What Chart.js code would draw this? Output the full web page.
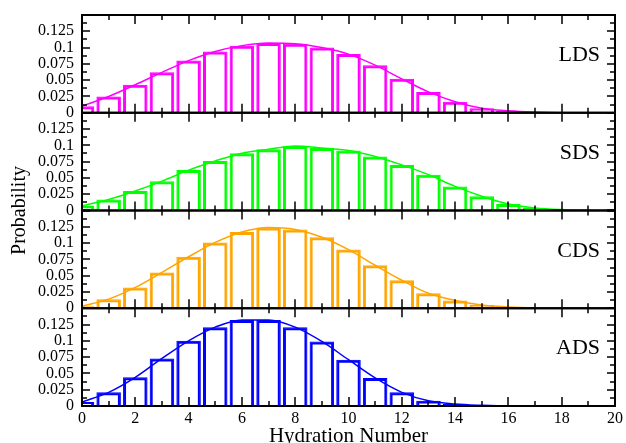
<!DOCTYPE html>
<html>
<head>
<meta charset="utf-8">
<script src="https://cdn.jsdelivr.net/npm/chart.js@4/dist/chart.umd.min.js"></script>
<style>
  body { margin: 0; background: #fff; }
  canvas { display: block; }
</style>
</head>
<body>
<canvas id="hydChart" width="626" height="443"></canvas>
<script>
var hydration = [0, 1, 2, 3, 4, 5, 6, 7, 8, 9, 10, 11, 12, 13, 14, 15, 16, 17, 18, 19, 20];

var ldsProb = [0.010, 0.025, 0.043, 0.062, 0.080, 0.094, 0.103, 0.107, 0.106, 0.100, 0.090,
               0.073, 0.052, 0.032, 0.017, 0.007, 0.003, 0.001, 0, 0, 0];
var sdsProb = [0.007, 0.017, 0.030, 0.045, 0.062, 0.076, 0.088, 0.094, 0.099, 0.096, 0.092,
               0.083, 0.070, 0.055, 0.037, 0.022, 0.010, 0.004, 0.0015, 0.0005, 0];
var cdsProb = [0.003, 0.014, 0.032, 0.055, 0.079, 0.101, 0.117, 0.124, 0.121, 0.109, 0.090,
               0.066, 0.043, 0.023, 0.012, 0.005, 0.002, 0.0005, 0, 0, 0];
var adsProb = [0.006, 0.021, 0.044, 0.073, 0.100, 0.121, 0.132, 0.132, 0.121, 0.099, 0.071,
               0.043, 0.021, 0.008, 0.003, 0.001, 0, 0, 0, 0, 0];

var panelNames = ["LDS", "SDS", "CDS", "ADS"];
var panelColors = ["#ff00ff", "#00ff00", "#ffa500", "#0000ff"];
var panelData = [ldsProb, sdsProb, cdsProb, adsProb];
var panelAxes = ["yL", "yS", "yC", "yA"];

var yTicks = [0, 0.025, 0.05, 0.075, 0.1, 0.125];
var yMax = 0.15;

var serif = "'Liberation Serif', 'Times New Roman', serif";

function points(arr) {
  return arr.map(function(v, i) { return { x: hydration[i], y: v }; });
}

var datasets = [];
panelData.forEach(function(arr, p) {
  // histogram bars, thick outline with a pale middle stroke
  datasets.push({
    type: 'bar',
    label: panelNames[p],
    data: points(arr),
    yAxisID: panelAxes[p],
    backgroundColor: 'rgba(0,0,0,0)',
    borderColor: panelColors[p],
    borderWidth: 3,
    borderSkipped: 'start',
    grouped: false,
    order: 2
  });
  datasets.push({
    type: 'bar',
    label: panelNames[p] + ' inner',
    data: points(arr),
    yAxisID: panelAxes[p],
    backgroundColor: 'rgba(0,0,0,0)',
    borderColor: 'rgba(255,255,255,0.5)',
    borderWidth: 1,
    borderSkipped: 'start',
    inflateAmount: -1,
    grouped: false,
    order: 1
  });
  // smooth curve through the same distribution
  datasets.push({
    type: 'line',
    label: panelNames[p] + ' curve',
    data: points(arr),
    yAxisID: panelAxes[p],
    borderColor: panelColors[p],
    borderWidth: 1.5,
    pointRadius: 0,
    fill: false,
    cubicInterpolationMode: 'monotone',
    order: 0
  });
});

function yAxis() {
  return {
    type: 'linear',
    position: 'left',
    stack: 'panels',
    stackWeight: 1,
    min: 0,
    max: yMax,
    grid: { display: false },
    border: { display: false },
    afterFit: function(s) { s.width = 82; },
    afterBuildTicks: function(s) {
      s.ticks = yTicks.concat([yMax]).map(function(v) { return { value: v }; });
    },
    ticks: {
      autoSkip: false,
      padding: 0,
      color: '#000',
      font: { family: serif, size: 16, lineHeight: 1 },
      callback: function(v) {
        if (Math.abs(v - yMax) < 1e-9) return '';
        return String(Math.round(v * 1000) / 1000);
      }
    }
  };
}

// frames, inward tick marks, panel names and the shared y title
var framePlugin = {
  id: 'frames',
  afterDraw: function(chart) {
    var ctx = chart.ctx;
    var xs = chart.scales.x;
    var area = chart.chartArea;
    var left = area.left, right = area.right;
    ctx.save();
    ctx.strokeStyle = '#000';
    panelAxes.forEach(function(id, p) {
      var ys = chart.scales[id];
      var top = ys.getPixelForValue(yMax), bottom = ys.getPixelForValue(0);
      ctx.lineWidth = 2;
      ctx.strokeRect(left, top, right - left, bottom - top);
      ctx.lineWidth = 1.5;
      ctx.beginPath();
      for (var v = 0; v <= 20; v++) {
        var px = Math.round(xs.getPixelForValue(v));
        var len = v % 2 === 0 ? 9 : 5;
        ctx.moveTo(px, bottom); ctx.lineTo(px, bottom - len);
        ctx.moveTo(px, top); ctx.lineTo(px, top + len);
      }
      for (var k = 0; k <= 12; k++) {
        var py = Math.round(ys.getPixelForValue(k * 0.0125));
        var l2 = k % 2 === 0 ? 8 : 5;
        ctx.moveTo(left, py); ctx.lineTo(left + l2, py);
        ctx.moveTo(right, py); ctx.lineTo(right - l2, py);
      }
      ctx.stroke();
      ctx.fillStyle = '#000';
      ctx.font = '22px ' + serif;
      ctx.textAlign = 'right';
      ctx.textBaseline = 'middle';
      ctx.fillText(panelNames[p], right - 15, ys.getPixelForValue(0.088));
    });
    ctx.translate(20, (area.top + area.bottom) / 2);
    ctx.rotate(-Math.PI / 2);
    ctx.font = '20px ' + serif;
    ctx.textAlign = 'center';
    ctx.textBaseline = 'middle';
    ctx.fillText('Probability', 0, 0);
    ctx.restore();
  }
};

new Chart(document.getElementById('hydChart'), {
  data: { datasets: datasets },
  options: {
    responsive: false,
    animation: false,
    layout: { padding: { top: 15, right: 11, left: 0, bottom: 0 } },
    datasets: { bar: { categoryPercentage: 1, barPercentage: 0.92 } },
    plugins: {
      legend: { display: false },
      tooltip: { enabled: false }
    },
    scales: {
      x: {
        type: 'linear',
        position: 'bottom',
        min: 0,
        max: 20,
        offset: false,
        grid: { display: false, offset: false },
        border: { display: false },
        afterFit: function(s) { s.height = 37; },
        ticks: {
          stepSize: 2,
          autoSkip: false,
          maxRotation: 0,
          padding: -5,
          color: '#000',
          font: { family: serif, size: 16 }
        },
        title: {
          display: true,
          text: 'Hydration Number',
          color: '#000',
          padding: { top: 0, bottom: -6 },
          font: { family: serif, size: 21 }
        }
      },
      yA: yAxis(),
      yC: yAxis(),
      yS: yAxis(),
      yL: yAxis()
    }
  },
  plugins: [framePlugin]
});
</script>
</body>
</html>
